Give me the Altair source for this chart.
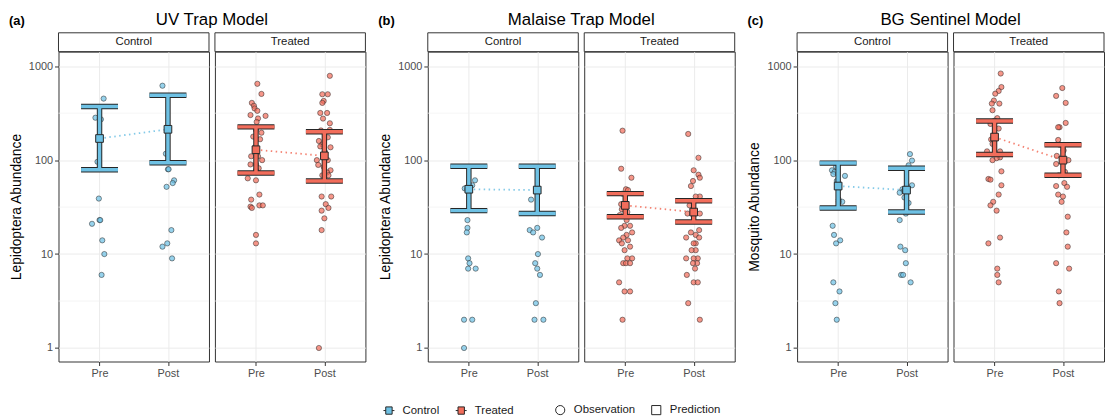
import altair as alt
import pandas as pd

# ---------------- data ----------------
models = ["UV Trap Model", "Malaise Trap Model", "BG Sentinel Model"]
letters = ["(a)", "(b)", "(c)"]
y_titles = ["Lepidoptera Abundance", "Lepidoptera Abundance", "Mosquito Abundance"]
groups = ["Control", "Treated"]
phases = ["Pre", "Post"]
y_breaks = [1, 10, 100, 1000]
minor_breaks = [3.162, 31.62, 316.2]
legend_keys = ["Control", "Treated", "Observation", "Prediction"]

# observations (abundance) and their horizontal jitter (category units)
uv_control_pre = [452, 283, 272, 96, 39, 21, 23, 23, 14, 10, 6]
uv_control_pre_jit = [0.06, -0.06, 0.02, -0.03, -0.01, -0.11, 0.0, 0.01, 0.04, 0.07, 0.03]
uv_control_post = [620, 117, 80, 80, 61, 57, 52, 18, 13, 12, 9]
uv_control_post_jit = [-0.08, -0.03, 0.0, 0.01, 0.09, 0.07, -0.02, 0.05, -0.01, -0.08, 0.06]
uv_treated_pre = [650, 507, 407, 379, 355, 335, 302, 296, 278, 255, 210, 196, 178, 167, 138, 110,
                  110, 100, 90, 90, 82, 78, 64, 61, 43, 38, 33, 33, 32, 31, 16, 13]
uv_treated_pre_jit = [0.02, 0.08, -0.06, -0.03, -0.02, 0.02, -0.08, 0.14, 0.03, 0.01, 0.0, 0.08,
                      -0.04, 0.06, -0.01, -0.07, 0.03, 0.09, -0.08, 0.0, 0.04, 0.0, -0.12, 0.0,
                      0.05, -0.07, 0.05, 0.10, -0.08, -0.06, 0.0, 0.0]
uv_treated_post = [790, 503, 503, 427, 407, 318, 318, 277, 247, 210, 207, 175, 160, 147, 140, 137,
                   122, 100, 100, 89, 85, 78, 74, 69, 69, 41, 41, 34, 31, 29, 24, 18, 1]
uv_treated_post_jit = [0.08, -0.03, 0.05, -0.01, -0.03, 0.04, -0.06, -0.02, 0.08, 0.08, -0.05, 0.05,
                       -0.08, -0.03, -0.06, 0.09, 0.01, -0.11, 0.05, -0.09, -0.01, 0.09, 0.04, 0.06,
                       -0.03, -0.04, 0.10, 0.02, 0.06, -0.04, 0.0, -0.04, -0.08]

mal_control_pre = [61, 54, 50, 49, 23, 19, 17, 9, 8, 7, 7, 2, 2, 1]
mal_control_pre_jit = [0.09, 0.05, -0.06, -0.02, -0.02, -0.02, -0.03, -0.01, 0.01, -0.01, 0.10, -0.07, 0.05, -0.07]
mal_control_post = [46, 38, 19, 18, 17, 15, 10, 8, 7, 6, 3, 2, 2]
mal_control_post_jit = [0.01, -0.09, 0.0, -0.11, -0.06, 0.07, 0.01, -0.03, 0.0, 0.04, -0.02, -0.04, 0.09]
mal_treated_pre = [206, 81, 65, 49, 48, 44, 34, 30, 28, 26, 23, 20, 20, 19, 17, 16, 15, 14, 14, 13,
                   12, 11, 9, 9, 8, 8, 8, 5, 4, 4, 2]
mal_treated_pre_jit = [-0.04, -0.06, 0.09, 0.01, 0.04, -0.04, -0.06, -0.05, 0.03, -0.08, 0.02, -0.01,
                       0.07, -0.06, 0.10, 0.02, -0.03, -0.09, 0.04, -0.05, 0.07, -0.01, 0.10, 0.03,
                       -0.03, 0.01, 0.07, -0.09, -0.01, 0.07, -0.04]
mal_treated_post = [190, 106, 78, 70, 65, 60, 53, 41, 41, 33, 27, 27, 18, 17, 16, 15, 15, 13, 13, 11,
                    11, 9, 9, 9, 8, 8, 7, 6, 5, 5, 3, 2]
mal_treated_post_jit = [-0.08, 0.07, 0.0, 0.07, 0.09, -0.01, -0.04, 0.09, 0.03, -0.06, -0.09, 0.09,
                        0.08, -0.04, 0.03, -0.11, 0.08, 0.03, 0.0, 0.03, -0.03, 0.06, 0.0, -0.11,
                        0.05, -0.01, 0.02, -0.10, 0.0, 0.06, -0.08, 0.09]

bg_control_pre = [85, 78, 75, 71, 68, 60, 38, 36, 36, 20, 16, 14, 13, 5, 4, 3, 2]
bg_control_pre_jit = [-0.03, -0.09, -0.05, -0.07, 0.10, -0.02, 0.01, 0.06, 0.01, -0.08, -0.06, 0.03,
                      -0.03, -0.07, 0.02, -0.04, -0.02]
bg_control_post = [116, 99, 88, 54, 49, 47, 45, 40, 35, 27, 23, 12, 11, 8, 6, 6, 5]
bg_control_post_jit = [0.05, 0.08, 0.03, 0.08, -0.06, -0.04, -0.10, -0.03, 0.03, -0.01, -0.10, -0.09,
                       -0.02, -0.01, -0.08, -0.05, 0.06]
bg_treated_pre = [836, 600, 545, 510, 431, 400, 400, 340, 280, 263, 243, 217, 166, 149, 124, 124,
                  107, 105, 100, 76, 63, 62, 54, 43, 36, 33, 29, 15, 13, 7, 6, 5]
bg_treated_pre_jit = [0.09, 0.10, 0.06, 0.01, -0.01, 0.07, -0.04, -0.03, 0.04, 0.0, -0.06, 0.06,
                      -0.05, -0.03, -0.11, 0.08, 0.08, 0.03, -0.03, 0.10, -0.09, -0.06, 0.10, 0.06,
                      -0.02, -0.06, 0.03, 0.08, -0.09, 0.04, 0.04, 0.06]
bg_treated_post = [586, 483, 407, 249, 224, 224, 164, 146, 127, 111, 100, 91, 75, 69, 57, 53, 52, 43,
                   41, 36, 25, 17, 12, 8, 7, 4, 3]
bg_treated_post_jit = [-0.01, -0.10, 0.04, 0.04, -0.05, -0.07, -0.07, -0.05, 0.01, -0.09, 0.08, -0.10,
                       0.03, -0.06, 0.02, -0.10, 0.06, -0.07, 0.0, -0.02, 0.07, 0.05, 0.07, -0.10,
                       0.09, -0.06, -0.05]

# model predictions: order Control-Pre, Control-Post, Treated-Pre, Treated-Post
uv_pred = [170, 213, 129, 111]
uv_lo = [79, 94, 73, 60]
uv_hi = [372, 490, 226, 201]
mal_pred = [49, 48, 33, 28]
mal_lo = [29, 27, 25, 22]
mal_hi = [86, 86, 44, 37]
bg_pred = [53, 48, 176, 100]
bg_lo = [31, 28, 115, 69]
bg_hi = [93, 82, 261, 146]

obs_lists = {
    ("UV Trap Model", "Control", "Pre"): (uv_control_pre, uv_control_pre_jit),
    ("UV Trap Model", "Control", "Post"): (uv_control_post, uv_control_post_jit),
    ("UV Trap Model", "Treated", "Pre"): (uv_treated_pre, uv_treated_pre_jit),
    ("UV Trap Model", "Treated", "Post"): (uv_treated_post, uv_treated_post_jit),
    ("Malaise Trap Model", "Control", "Pre"): (mal_control_pre, mal_control_pre_jit),
    ("Malaise Trap Model", "Control", "Post"): (mal_control_post, mal_control_post_jit),
    ("Malaise Trap Model", "Treated", "Pre"): (mal_treated_pre, mal_treated_pre_jit),
    ("Malaise Trap Model", "Treated", "Post"): (mal_treated_post, mal_treated_post_jit),
    ("BG Sentinel Model", "Control", "Pre"): (bg_control_pre, bg_control_pre_jit),
    ("BG Sentinel Model", "Control", "Post"): (bg_control_post, bg_control_post_jit),
    ("BG Sentinel Model", "Treated", "Pre"): (bg_treated_pre, bg_treated_pre_jit),
    ("BG Sentinel Model", "Treated", "Post"): (bg_treated_post, bg_treated_post_jit),
}
pred_lists = {
    "UV Trap Model": (uv_pred, uv_lo, uv_hi),
    "Malaise Trap Model": (mal_pred, mal_lo, mal_hi),
    "BG Sentinel Model": (bg_pred, bg_lo, bg_hi),
}

rows = []
for (m, g, p), (vals, jits) in obs_lists.items():
    for v, j in zip(vals, jits):
        rows.append({"model": m, "group": g, "phase": p, "value": v,
                     "xpos": phases.index(p) + 1 + j})
obs_df = pd.DataFrame(rows)

prow = []
for m, (est, lo, hi) in pred_lists.items():
    k = 0
    for g in groups:
        for p in phases:
            prow.append({"model": m, "group": g, "phase": p, "est": est[k], "lo": lo[k],
                         "hi": hi[k], "xpos": phases.index(p) + 1})
            k += 1
pred_df = pd.DataFrame(prow)

# ---------------- styling ----------------
FONT = "Liberation Sans"
COLORS = {"Control": "#6EC1E4", "Treated": "#F26D5B"}
DARK = "#262626"
W, H = 152, 313
CAP = 0.27

x_scale = alt.Scale(domain=[0.4, 2.6], nice=False, zero=False)
y_scale = alt.Scale(type="log", domain=[0.718, 1430], nice=False)

x_axis = alt.Axis(values=[1, 2], labelExpr=f"datum.value == 1 ? '{phases[0]}' : '{phases[1]}'",
                  title=None, grid=True, gridColor="#ebebeb", gridWidth=1, domain=False,
                  tickColor="#333333", tickSize=4, labelColor="#4d4d4d", labelFontSize=11,
                  labelPadding=2, labelFont=FONT)


def y_axis(mi, left):
    if left:
        return alt.Axis(values=y_breaks, format="d", title=y_titles[mi], titleFontSize=14,
                        titleFontWeight="normal", titleColor="black", titlePadding=5,
                        titleFont=FONT, grid=True, gridColor="#ebebeb", gridWidth=1,
                        domain=False, tickColor="#333333", tickSize=4, labelColor="#4d4d4d",
                        labelFontSize=11, labelPadding=2, labelFont=FONT)
    return alt.Axis(values=y_breaks, labels=False, ticks=False, title=None, grid=True,
                    gridColor="#ebebeb", gridWidth=1, domain=False)


glyph = "M-0.7,-0.8H0.7V0.8H-0.7Z M-1.2,0H-0.7 M0.7,0H1.2"
PAD = "\u00a0" * 8 + "\u200b"
legend_def = alt.Legend(
    orient="none", legendX=328, legendY=356, direction="horizontal",
    title=None, labelFontSize=11.5, labelColor="#1a1a1a", labelFont=FONT,
    symbolSize=85, symbolStrokeWidth=1, symbolOpacity=1,
    columnPadding=14, labelOffset=8,
    labelExpr="datum.label == 'Treated' ? datum.label + '" + PAD + "' : datum.label")


def panel(mi, g):
    m = models[mi]
    left = g == "Control"
    col = COLORS[g]
    xa = x_axis
    ya = y_axis(mi, left)
    X = lambda f: alt.X(f, scale=x_scale, axis=xa)
    Y = lambda f: alt.Y(f, scale=y_scale, axis=ya)

    o = obs_df[(obs_df.model == m) & (obs_df.group == g)]
    pr = pred_df[(pred_df.model == m) & (pred_df.group == g)].copy()
    pr["xl"] = pr["xpos"] - CAP
    pr["xr"] = pr["xpos"] + CAP

    minor = alt.Chart(pd.DataFrame({"m": minor_breaks})).mark_rule(
        color="#f0f0f0", strokeWidth=0.7).encode(
        y=Y("m:Q"), x=alt.value(0), x2=alt.value(W))

    pts = alt.Chart(o).mark_point(filled=True, size=28, fill=col, fillOpacity=0.72, opacity=1,
                                  stroke=DARK, strokeWidth=0.6, strokeOpacity=0.85).encode(
        x=X("xpos:Q"), y=Y("value:Q"))

    pb = alt.Chart(pr)
    line = pb.mark_line(color=col, strokeDash=[1.5, 3.5], strokeWidth=1.8, opacity=0.85).encode(
        x=X("xpos:Q"), y=Y("est:Q"))
    stem_dark = pb.mark_rule(color=DARK, strokeWidth=5.5).encode(
        x=X("xpos:Q"), y=Y("lo:Q"), y2="hi:Q")
    cap_hi_dark = pb.mark_rule(color=DARK, strokeWidth=5.5).encode(
        x=X("xl:Q"), x2="xr:Q", y=Y("hi:Q"))
    cap_lo_dark = pb.mark_rule(color=DARK, strokeWidth=5.5).encode(
        x=X("xl:Q"), x2="xr:Q", y=Y("lo:Q"))
    stem = pb.mark_rule(color=col, strokeWidth=3.5).encode(
        x=X("xpos:Q"), y=Y("lo:Q"), y2="hi:Q")
    cap_hi = pb.mark_rule(color=col, strokeWidth=3.5).encode(
        x=X("xl:Q"), x2="xr:Q", y=Y("hi:Q"))
    cap_lo = pb.mark_rule(color=col, strokeWidth=3.5).encode(
        x=X("xl:Q"), x2="xr:Q", y=Y("lo:Q"))
    sq = pb.mark_point(shape="square", filled=True, size=60, fill=col, opacity=1,
                       stroke=DARK, strokeWidth=1).encode(x=X("xpos:Q"), y=Y("est:Q"))

    sdf = pd.DataFrame({"label": [g]})
    strip = alt.Chart(sdf).mark_rect(fill="white", stroke="#333333", strokeWidth=1).encode(
        x=alt.value(0), x2=alt.value(W), y=alt.value(-19), y2=alt.value(0))
    strip_txt = alt.Chart(sdf).mark_text(fontSize=11.5, color="#1a1a1a", font=FONT,
                                         baseline="middle").encode(
        x=alt.value(W / 2), y=alt.value(-9.5), text="label:N")

    layers = [minor, pts, line, stem_dark, cap_hi_dark, cap_lo_dark, stem, cap_hi, cap_lo, sq,
              strip, strip_txt]

    if left:
        tdf = pd.DataFrame({"t": [m], "l": [letters[mi]]})
        title = alt.Chart(tdf).mark_text(fontSize=17, color="black", font=FONT,
                                         baseline="middle").encode(
            x=alt.value(W + 3), y=alt.value(-32), text="t:N")
        letter = alt.Chart(tdf).mark_text(fontSize=13, fontWeight="bold", color="black",
                                          font=FONT, align="left", baseline="middle").encode(
            x=alt.value(-50), y=alt.value(-31), text="l:N")
        layers += [title, letter]
        if mi == 0:
            ldf = pd.DataFrame({"key": legend_keys, "v": [None] * len(legend_keys)})
            leg = alt.Chart(ldf).mark_point(filled=True, opacity=1, stroke=DARK,
                                            strokeWidth=1).encode(
                x=X("v:Q"), y=Y("v:Q"),
                fill=alt.Fill("key:N", scale=alt.Scale(
                    domain=legend_keys,
                    range=[COLORS["Control"], COLORS["Treated"], "white", "white"]),
                    legend=legend_def),
                shape=alt.Shape("key:N", scale=alt.Scale(
                    domain=legend_keys, range=[glyph, glyph, "circle", "square"]),
                    legend=legend_def),
            )
            layers.append(leg)

    return alt.layer(*layers).properties(width=W, height=H)


model_blocks = []
for mi in range(len(models)):
    model_blocks.append(alt.hconcat(panel(mi, "Control"), panel(mi, "Treated"),
                                    spacing=6, bounds="flush"))

chart = alt.hconcat(*model_blocks, spacing=11).properties(padding=0).configure(
    font=FONT).configure_view(stroke="#333333", strokeWidth=1)

chart.save("out.html", embed_options={"renderer": "svg", "actions": False})
